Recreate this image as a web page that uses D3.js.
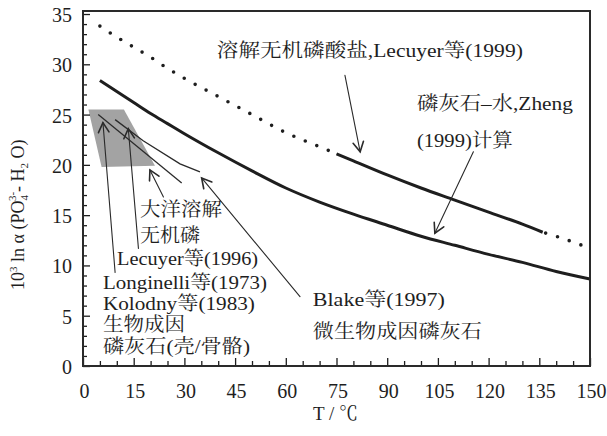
<!DOCTYPE html>
<html>
<head>
<meta charset="utf-8">
<script src="https://cdn.jsdelivr.net/npm/d3@7/dist/d3.min.js"></script>
<style>
  html, body { margin: 0; padding: 0; background: #fff; }
  svg { display: block; }
</style>
</head>
<body>
<script>
// ---- data ----
// Temperature axis ticks (°C) and 10^3 ln α axis ticks
const xTicks = [0, 15, 30, 45, 60, 75, 90, 105, 120, 135, 150];
const yTicks = [0, 5, 10, 15, 20, 25, 30, 35];

// Dissolved inorganic phosphate – water (Lecuyer et al. 1999)
const lecuyerT = [5, 10, 15, 20, 25, 30, 40, 50, 60, 70, 75, 80, 90, 100, 110, 120, 130, 136, 140, 150];
const lecuyerV = [33.8, 32.7, 31.7, 30.7, 29.6, 28.6, 26.8, 25.0, 23.2, 21.8, 21.1, 20.4, 19.0, 17.7, 16.5, 15.3, 14.1, 13.3, 12.9, 11.7];
// measured (solid) range of that curve
const lecuyerSolid = [75, 136];

// Apatite – water, calculated (Zheng 1999)
const zhengT = [5, 10, 15, 20, 25, 30, 40, 50, 60, 70, 80, 90, 100, 110, 120, 130, 140, 150];
const zhengV = [28.4, 27.3, 26.2, 25.1, 24.1, 23.1, 21.2, 19.4, 17.7, 16.3, 15.1, 14.0, 12.9, 12.0, 11.1, 10.3, 9.4, 8.65];

// Biogenic apatite calibrations (thin lines)
const longinelliT = [4.5, 29.2];
const longinelliV = [25.0, 18.2];
const lecuyer96T = [9.5, 17.8, 28.7, 34.6];
const lecuyer96V = [24.5, 22.4, 20.1, 19.3];

// Shaded field of biogenic apatite (shell / bone)
const fieldT = [1.6, 12.1, 21.3, 5.5];
const fieldV = [25.5, 25.5, 19.9, 19.8];

// ---- layout ----
const W = 607, H = 436;
const x = d3.scaleLinear().domain([0, 150]).range([83, 590]);
const y = d3.scaleLinear().domain([0, 35.3]).range([366, 11]);

const SERIF = "'Liberation Serif','Noto Serif CJK SC','Noto Sans CJK SC',serif";
const INK = "#1e1e1e";

const svg = d3.select("body").append("svg").attr("width", W).attr("height", H);

const pts = (ts, vs) => ts.map((t, i) => [t, vs[i]]);
const line = d3.line().x(d => x(d[0])).y(d => y(d[1])).curve(d3.curveMonotoneX);

// shaded field
svg.append("path")
  .attr("d", "M" + pts(fieldT, fieldV).map(d => [x(d[0]), y(d[1])].join(",")).join("L") + "Z")
  .attr("fill", "#a3a3a3");

// thin calibration lines
[[longinelliT, longinelliV], [lecuyer96T, lecuyer96V]].forEach(([ts, vs]) => {
  svg.append("path").attr("d", d3.line().x(d => x(d[0])).y(d => y(d[1]))(pts(ts, vs)))
    .attr("fill", "none").attr("stroke", "#2a2a2a").attr("stroke-width", 1.3);
});

// Zheng curve
svg.append("path").attr("d", line(pts(zhengT, zhengV)))
  .attr("fill", "none").attr("stroke", INK).attr("stroke-width", 3);

// Lecuyer 1999 curve: dotted outside the measured range, solid inside
const lec = pts(lecuyerT, lecuyerV);
const pre = lec.filter(d => d[0] <= lecuyerSolid[0]);
const mid = lec.filter(d => d[0] >= lecuyerSolid[0] && d[0] <= lecuyerSolid[1]);
const post = lec.filter(d => d[0] >= lecuyerSolid[1]);
svg.append("path").attr("d", line(pre)).attr("fill", "none").attr("stroke", INK)
  .attr("stroke-width", 3.6).attr("stroke-linecap", "round").attr("stroke-dasharray", "0,12.4");
svg.append("path").attr("d", line(mid)).attr("fill", "none").attr("stroke", INK).attr("stroke-width", 3);
svg.append("path").attr("d", line(post)).attr("fill", "none").attr("stroke", INK)
  .attr("stroke-width", 3.6).attr("stroke-linecap", "round").attr("stroke-dasharray", "0,12.4")
  .attr("stroke-dashoffset", -12.4 * 0.25);

// ---- axes ----
const xAxis = d3.axisBottom(x).tickValues(d3.range(0, 151, 5)).tickSize(-5).tickFormat("");
const yAxis = d3.axisLeft(y).tickValues(d3.range(0, 36, 1)).tickSize(-4).tickFormat("");
const gx = svg.append("g").attr("transform", `translate(0,${y(0)})`).call(xAxis);
const gy = svg.append("g").attr("transform", `translate(${x(0)},0)`).call(yAxis);
[gx, gy].forEach(g => {
  g.select(".domain").remove();
  g.selectAll(".tick line").attr("stroke", INK).attr("stroke-width", 1.3);
});
gx.selectAll(".tick line").filter(d => d % 15 === 0).attr("y2", -8);
gy.selectAll(".tick line").filter(d => d % 5 === 0).attr("x2", 7);

// frame
svg.append("rect").attr("x", x(0)).attr("y", y(35.3)).attr("width", x(150) - x(0)).attr("height", y(0) - y(35.3))
  .attr("fill", "none").attr("stroke", "#2a2a2a").attr("stroke-width", 2);

// tick labels
svg.append("g").selectAll("text").data(xTicks).join("text")
  .attr("x", d => x(d) + 1.5).attr("y", 398).attr("text-anchor", "middle")
  .attr("font-family", SERIF).attr("font-size", 20).attr("fill", INK).text(d => d);
svg.append("g").selectAll("text").data(yTicks).join("text")
  .attr("x", 72).attr("y", d => y(d) + 8).attr("text-anchor", "end")
  .attr("font-family", SERIF).attr("font-size", 20).attr("fill", INK).text(d => d);

// axis titles
svg.append("text").attr("x", 313).attr("y", 420).attr("font-family", SERIF).attr("font-size", 19)
  .attr("fill", INK).text("T / ℃");

const yt = svg.append("text").attr("transform", "translate(24,290) rotate(-90)")
  .attr("font-family", SERIF).attr("font-size", 18).attr("fill", INK);
yt.append("tspan").text("10");
yt.append("tspan").attr("font-size", 11).attr("dy", -7).text("3");
yt.append("tspan").attr("dy", 7).text(" ln α (PO");
yt.append("tspan").attr("font-size", 11).attr("dy", 4).text("4");
yt.append("tspan").attr("font-size", 11).attr("dx", -6).attr("dy", -12).text("3-");
yt.append("tspan").attr("dy", 8).text("- H");
yt.append("tspan").attr("font-size", 11).attr("dy", 4).text("2");
yt.append("tspan").attr("dy", -4).text(" O)");

// ---- annotations ----
const labels = [
  { t: "溶解无机磷酸盐,Lecuyer等(1999)", T: 39.6, v: 30.7, w: 306 },
  { t: "磷灰石–水,Zheng", T: 98.8, v: 25.5, w: 156 },
  { t: "(1999)计算", T: 98.8, v: 21.8, w: 96 },
  { t: "大洋溶解", T: 16.9, v: 14.9, w: 82 },
  { t: "无机磷", T: 16.9, v: 12.3, w: 60 },
  { t: "Lecuyer等(1996)", T: 10.1, v: 10.0, w: 141 },
  { t: "Longinelli等(1973)", T: 5.9, v: 7.7, w: 164 },
  { t: "Kolodny等(1983)", T: 5.9, v: 5.6, w: 152 },
  { t: "生物成因", T: 5.9, v: 3.5, w: 82 },
  { t: "磷灰石(壳/骨骼)", T: 5.9, v: 1.3, w: 147 },
  { t: "Blake等(1997)", T: 68.0, v: 6.0, w: 132 },
  { t: "微生物成因磷灰石", T: 68.0, v: 2.8, w: 169 }
];
svg.append("g").selectAll("text").data(labels).join("text")
  .attr("x", d => x(d.T)).attr("y", d => y(d.v))
  .attr("font-family", SERIF).attr("font-size", 19).attr("fill", INK)
  .attr("textLength", d => d.w).attr("lengthAdjust", "spacingAndGlyphs")
  .text(d => d.t);

// arrows: tail -> head, in data coordinates
const arrows = [
  { from: [77.5, 28.9], to: [82.0, 21.3] },
  { from: [115.5, 21.3], to: [104.1, 13.2] },
  { from: [9.5, 9.3], to: [5.9, 24.2] },
  { from: [16.4, 11.7], to: [13.4, 23.6] },
  { from: [23.8, 16.8], to: [19.8, 19.5] },
  { from: [64.2, 6.9], to: [35.1, 18.7] }
];
const ga = svg.append("g").attr("stroke", "#2a2a2a").attr("fill", "none").attr("stroke-linecap", "round");
arrows.forEach(a => {
  const x1 = x(a.from[0]), y1 = y(a.from[1]), x2 = x(a.to[0]), y2 = y(a.to[1]);
  ga.append("line").attr("x1", x1).attr("y1", y1).attr("x2", x2).attr("y2", y2).attr("stroke-width", 1.1);
  const ang = Math.atan2(y1 - y2, x1 - x2), len = 11, spread = 0.5;
  const p1 = [x2 + len * Math.cos(ang + spread), y2 + len * Math.sin(ang + spread)];
  const p2 = [x2 + len * Math.cos(ang - spread), y2 + len * Math.sin(ang - spread)];
  ga.append("path").attr("d", `M${p1}L${x2},${y2}L${p2}`).attr("stroke-width", 1.6);
});
</script>
</body>
</html>
